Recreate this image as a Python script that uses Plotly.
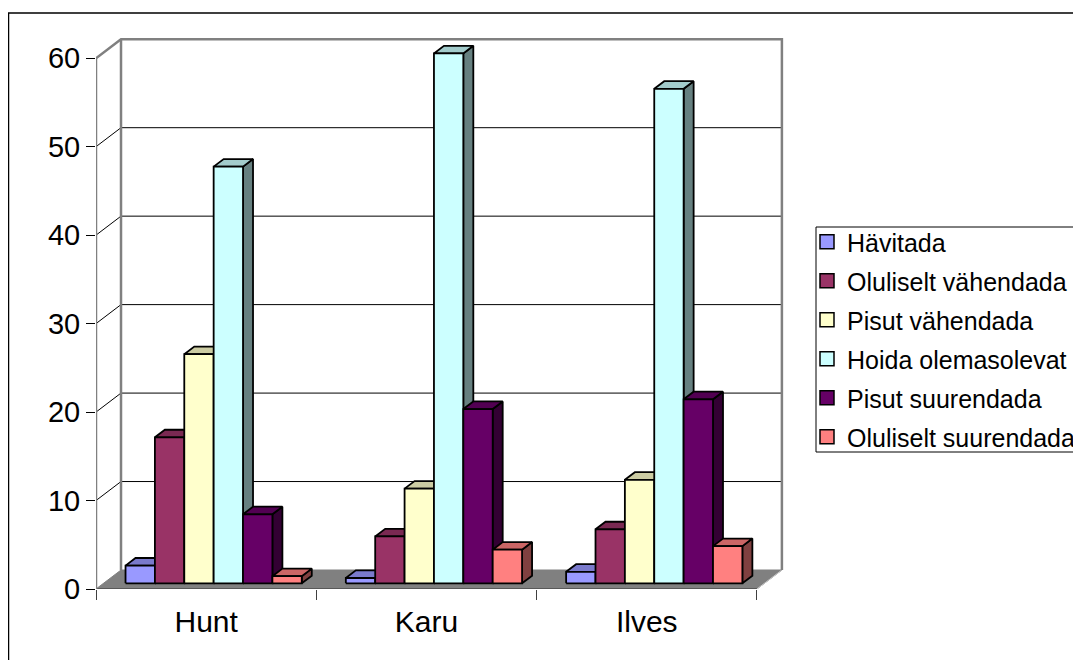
import plotly.graph_objects as go

# ---------------- data ----------------
categories = ["Hunt", "Karu", "Ilves"]
series_names = [
    "Hävitada",
    "Oluliselt vähendada",
    "Pisut vähendada",
    "Hoida olemasolevat",
    "Pisut suurendada",
    "Oluliselt suurendada",
]
havitada = [2.0, 0.6, 1.3]
oluliselt_vahendada = [16.5, 5.3, 6.1]
pisut_vahendada = [25.9, 10.7, 11.7]
hoida_olemasolevat = [47.1, 59.9, 55.9]
pisut_suurendada = [7.8, 19.7, 20.8]
oluliselt_suurendada = [0.8, 3.8, 4.2]
series_values = [havitada, oluliselt_vahendada, pisut_vahendada,
                 hoida_olemasolevat, pisut_suurendada, oluliselt_suurendada]
y_ticks = [0, 10, 20, 30, 40, 50, 60]

# ---------------- style ----------------
front_colors = ["#9999FF", "#993366", "#FFFFCC", "#CCFFFF", "#660066", "#FF8080"]
top_colors = ["#7A7ACC", "#7A2952", "#CCCCA3", "#A3CCCC", "#520052", "#CC6666"]
side_colors = ["#4D4D80", "#4D1A33", "#808066", "#668080", "#330033", "#804040"]
FONT = "Arial, Liberation Sans, sans-serif"

OFF = 8                      # page body margin of the html page
W, H = 1081 - OFF, 660 - OFF
PLOT_L, PLOT_R, PLOT_T, PLOT_B = 96 - OFF, 784 - OFF, 37 - OFF, 589 - OFF
ML, MR, MT, MB = PLOT_L, W - PLOT_R, PLOT_T, H - PLOT_B
PLOT_W = W - ML - MR
PLOT_H = H - MT - MB
Y_TOP = 62.4
X_MAX = 3.123
PXX = PLOT_W / X_MAX          # pixels per category unit
PXY = PLOT_H / Y_TOP          # pixels per value unit
D_X = 25 / PXX                # full depth offset (x, in category units)
D_Y = 19 / PXY                # full depth offset (y, in value units)
N_CAT = len(categories)
N_SER = len(series_names)
GROUP = 0.8
BW = GROUP / N_SER
DEPTH0, DEPTH1 = 0.3, 0.7     # bar depth span (fraction of floor depth)


def px_x(p):
    return (p - OFF - ML) / PLOT_W


def px_y(p):
    return (H - MB - (p - OFF)) / PLOT_H


fig = go.Figure()


def poly(xs, ys, fill, line_color, line_width):
    fig.add_trace(go.Scatter(
        x=xs + [xs[0]], y=ys + [ys[0]], mode="lines", fill="toself",
        fillcolor=fill, line=dict(color=line_color, width=line_width),
        hoverinfo="skip", showlegend=False))


def seg(xs, ys, color, width):
    fig.add_trace(go.Scatter(
        x=xs, y=ys, mode="lines", line=dict(color=color, width=width),
        hoverinfo="skip", showlegend=False, cliponaxis=False))


# floor
poly([0, N_CAT, N_CAT + D_X, D_X], [0, 0, D_Y, D_Y], "#808080", "#808080", 1)
seg([0, N_CAT], [0, 0], "#303030", 1)
seg([N_CAT, N_CAT + D_X], [0, D_Y], "#C8C8C8", 1)

# gridlines: back wall + left wall diagonals
for v in y_ticks[1:-1]:
    seg([D_X, N_CAT + D_X], [v + D_Y, v + D_Y], "#000000", 1)
    seg([0, D_X], [v, v + D_Y], "#000000", 1)

# wall borders (gray)
top_v = y_ticks[-1]
seg([0, 0], [0, top_v], "#808080", 2.5)
seg([D_X, D_X], [D_Y, top_v + D_Y], "#808080", 2.5)
seg([0, D_X, N_CAT + D_X, N_CAT + D_X], [top_v, top_v + D_Y, top_v + D_Y, D_Y], "#808080", 2.5)

# bars (side, top, front for each, left to right)
sx0, sy0 = DEPTH0 * D_X, DEPTH0 * D_Y
sx1, sy1 = DEPTH1 * D_X, DEPTH1 * D_Y
for i in range(N_CAT):
    for j in range(N_SER):
        v = series_values[j][i]
        x0 = i + (1 - GROUP) / 2 + j * BW
        x1 = x0 + BW
        poly([x1 + sx0, x1 + sx1, x1 + sx1, x1 + sx0],
             [sy0, sy1, v + sy1, v + sy0], side_colors[j], "#000000", 1.8)
        poly([x0 + sx0, x1 + sx0, x1 + sx1, x0 + sx1],
             [v + sy0, v + sy0, v + sy1, v + sy1], top_colors[j], "#000000", 1.8)
        poly([x0 + sx0, x1 + sx0, x1 + sx0, x0 + sx0],
             [sy0, sy0, v + sy0, v + sy0], front_colors[j], "#000000", 1.8)

# legend entries
for j, name in enumerate(series_names):
    fig.add_trace(go.Scatter(
        x=[None], y=[None], mode="markers", name=name, legendgroup=name,
        marker=dict(symbol="square", size=14, color=front_colors[j],
                    line=dict(color="#000000", width=1.5))))

fig.update_layout(
    width=W, height=H,
    margin=dict(l=ML, r=MR, t=MT, b=MB, autoexpand=False),
    paper_bgcolor="white", plot_bgcolor="rgba(0,0,0,0)",
    font=dict(family=FONT, color="#000000"),
    showlegend=True,
    legend=dict(
        x=px_x(807), y=px_y(219),
        xanchor="left", yanchor="top",
        bgcolor="rgba(0,0,0,0)", borderwidth=0,
        font=dict(size=25, family=FONT, color="#000000"),
        tracegroupgap=3.5, traceorder="grouped",
    ),
    xaxis=dict(
        range=[0, X_MAX], showgrid=False, zeroline=False, showline=False,
        tickmode="array", tickvals=[i + 0.5 for i in range(N_CAT)],
        ticktext=categories, ticks="", tickfont=dict(size=30, family=FONT),
        ticklabelstandoff=12,
        minor=dict(tickmode="linear", tick0=0, dtick=1, ticks="outside",
                   ticklen=10, tickcolor="#404040", tickwidth=1, showgrid=False),
        fixedrange=True,
    ),
    yaxis=dict(
        range=[0, Y_TOP], showgrid=False, zeroline=False, showline=False,
        tickmode="array", tickvals=y_ticks, ticks="outside", ticklen=9,
        tickcolor="#000000", tickwidth=1, tickfont=dict(size=29, family=FONT),
        fixedrange=True,
    ),
    shapes=[
        dict(type="rect", xref="paper", yref="paper",
             x0=px_x(8.5), x1=1.6, y0=-0.5, y1=px_y(13),
             line=dict(color="#000000", width=1.5), layer="below"),
        dict(type="rect", xref="paper", yref="paper",
             x0=px_x(816), x1=1.6, y0=px_y(452), y1=px_y(227),
             fillcolor="white", line=dict(color="#000000", width=1), layer="below"),
    ],
)

fig.write_html("out.html")
